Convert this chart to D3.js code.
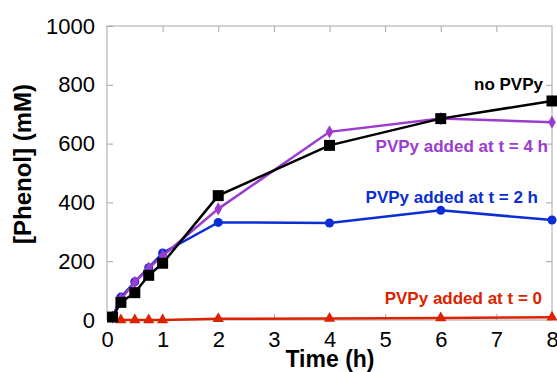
<!DOCTYPE html>
<html>
<head>
<meta charset="utf-8">
<script src="https://cdn.jsdelivr.net/npm/d3@7"></script>
<style>
  body { margin: 0; background: #fff; }
  svg text { font-family: Arial, "Liberation Sans", sans-serif; }
</style>
</head>
<body>
<div id="chart"></div>
<script>
// time points (h)
var times = [0.1, 0.25, 0.5, 0.75, 1, 2, 4, 6, 8];
var redTimes = [0, 0.25, 0.5, 0.75, 1, 2, 4, 6, 8];

// [Phenol] values
var noPVPy = [10, 60, 93, 152, 193, 423, 594, 685, 745];
var added4h = [10, 72, 128, 177, 218, 378, 640, 685, 673];
var added2h = [10, 78, 130, 178, 228, 332, 330, 373, 340];
var added0 = [0, 0, 0, 0, 0, 4, 5, 7, 9];

var xTicks = [0, 1, 2, 3, 4, 5, 6, 7, 8];
var yTicks = [0, 200, 400, 600, 800, 1000];

var width = 557,
    height = 372;
var margin = {left: 107, right: 5, top: 26, bottom: 52};

var svg = d3.select("#chart")
    .append("svg")
    .attr("width", width)
    .attr("height", height);

var x = d3.scaleLinear().domain([0, 8]).range([margin.left, width - margin.right]);
var y = d3.scaleLinear().domain([0, 1000]).range([height - margin.bottom, margin.top]);

// frame box
svg.append("rect")
    .attr("x", x(0))
    .attr("y", y(1000))
    .attr("width", x(8) - x(0))
    .attr("height", y(0) - y(1000))
    .attr("fill", "none")
    .attr("stroke", "#a6a6a6")
    .attr("stroke-width", 1);

// inner ticks on all four sides
function styleAxis(g) {
    g.select(".domain").remove();
    g.selectAll(".tick line").attr("stroke", "#a6a6a6");
}
svg.append("g")
    .attr("transform", "translate(0," + y(0) + ")")
    .call(d3.axisBottom(x).tickValues(xTicks).tickSize(-6).tickPadding(11).tickFormat(d3.format("d")))
    .call(styleAxis)
    .selectAll("text")
    .attr("font-size", 22)
    .attr("fill", "#000");
svg.append("g")
    .attr("transform", "translate(0," + y(1000) + ")")
    .call(d3.axisTop(x).tickValues(xTicks.slice(1, -1)).tickSize(-6).tickFormat(""))
    .call(styleAxis);
svg.append("g")
    .attr("transform", "translate(" + x(0) + ",0)")
    .call(d3.axisLeft(y).tickValues(yTicks).tickSize(-6).tickPadding(12).tickFormat(d3.format("d")))
    .call(styleAxis)
    .selectAll("text")
    .attr("font-size", 22)
    .attr("fill", "#000");
svg.append("g")
    .attr("transform", "translate(" + x(8) + ",0)")
    .call(d3.axisRight(y).tickValues(yTicks.slice(1, -1)).tickSize(-6).tickFormat(""))
    .call(styleAxis);

// axis titles
svg.append("text")
    .attr("x", 330)
    .attr("y", 367)
    .attr("text-anchor", "middle")
    .attr("font-size", 23)
    .attr("font-weight", "bold")
    .text("Time (h)");
svg.append("text")
    .attr("transform", "translate(31,164) rotate(-90)")
    .attr("text-anchor", "middle")
    .attr("font-size", 24)
    .attr("font-weight", "bold")
    .text("[Phenol] (mM)");

var series = [
    {t: redTimes, v: added0, color: "#dd2200", shape: d3.symbolTriangle, size: 55},
    {t: times, v: added2h, color: "#0a2ed4", shape: d3.symbolCircle, size: 64},
    {t: times, v: added4h, color: "#9b3cd0", shape: d3.symbolDiamond, size: 50},
    {t: times, v: noPVPy, color: "#000000", shape: d3.symbolSquare, size: 121}
];

var line = d3.line()
    .x(function (d) { return x(d[0]); })
    .y(function (d) { return y(d[1]); });

series.forEach(function (s) {
    var pts = s.t.map(function (t, i) { return [t, s.v[i]]; });
    svg.append("path")
        .datum(pts)
        .attr("d", line)
        .attr("fill", "none")
        .attr("stroke", s.color)
        .attr("stroke-width", 2.5);
    svg.append("g")
        .selectAll("path")
        .data(pts.filter(function (d) { return d[0] > 0; }))
        .enter()
        .append("path")
        .attr("d", d3.symbol().type(s.shape).size(s.size))
        .attr("transform", function (d) { return "translate(" + x(d[0]) + "," + y(d[1]) + ")"; })
        .attr("fill", s.color);
});

// series labels
var labels = [
    {text: "no PVPy", color: "#000000", x: 543, y: 90},
    {text: "PVPy added at t = 4 h", color: "#9b3cd0", x: 548, y: 152},
    {text: "PVPy added at t = 2 h", color: "#0a2ed4", x: 538, y: 203},
    {text: "PVPy added at t = 0", color: "#dd2200", x: 542, y: 304}
];
svg.append("g")
    .selectAll("text")
    .data(labels)
    .enter()
    .append("text")
    .attr("x", function (d) { return d.x; })
    .attr("y", function (d) { return d.y; })
    .attr("text-anchor", "end")
    .attr("font-size", 17)
    .attr("font-weight", "bold")
    .attr("fill", function (d) { return d.color; })
    .text(function (d) { return d.text; });
</script>
</body>
</html>
